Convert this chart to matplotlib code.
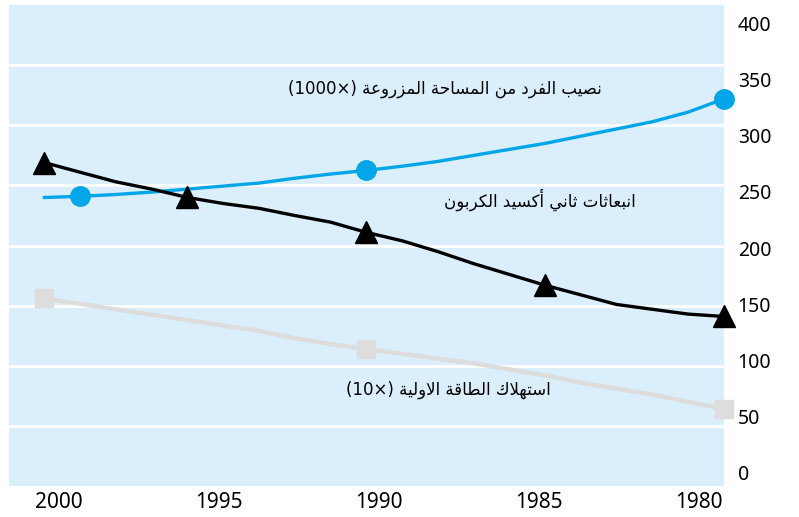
import matplotlib
matplotlib.use("Agg")
import matplotlib.pyplot as plt

# ---- data ----
years = [1999, 1998, 1997, 1996, 1995, 1994, 1993, 1992, 1991, 1990,
         1989, 1988, 1987, 1986, 1985, 1984, 1983, 1982, 1981, 1980]
land_per_capita = [240, 241, 242.5, 244.5, 247, 249.5, 252, 256, 259.5, 262.5,
                   266, 270, 275, 280, 285, 291, 297, 303, 311, 322]
co2 = [269, 261, 253, 247, 240, 235, 231, 225, 219.5, 211,
       204, 195, 185, 176, 167, 159, 151, 147, 143, 141]
energy = [156, 151.5, 147, 142.5, 138, 133.5, 129, 123, 118, 114,
          110, 106, 102, 97, 92, 86, 81, 76, 70, 64]

land_marker_years = [1998, 1990, 1980]
co2_marker_years = [1999, 1995, 1990, 1985, 1980]
energy_marker_years = [1999, 1990, 1980]

x_ticks = [2000, 1995, 1990, 1985, 1980]
y_ticks = [0, 50, 100, 150, 200, 250, 300, 350, 400]

label_land = "نصيب الفرد من المساحة المزروعة"
label_co2 = "انبعاثات ثاني أكسيد الكربون"
label_energy = "استهلاك الطاقة الاولية"

# ---- minimal arabic shaping (matplotlib has no complex text layout) ----
FORMS = {
    'ا': ('\uFE8D', '\uFE8E', None, None),
    'أ': ('\uFE83', '\uFE84', None, None),
    'ب': ('\uFE8F', '\uFE90', '\uFE91', '\uFE92'),
    'ة': ('\uFE93', '\uFE94', None, None),
    'ت': ('\uFE95', '\uFE96', '\uFE97', '\uFE98'),
    'ث': ('\uFE99', '\uFE9A', '\uFE9B', '\uFE9C'),
    'ح': ('\uFEA1', '\uFEA2', '\uFEA3', '\uFEA4'),
    'د': ('\uFEA9', '\uFEAA', None, None),
    'ر': ('\uFEAD', '\uFEAE', None, None),
    'ز': ('\uFEAF', '\uFEB0', None, None),
    'س': ('\uFEB1', '\uFEB2', '\uFEB3', '\uFEB4'),
    'ص': ('\uFEB9', '\uFEBA', '\uFEBB', '\uFEBC'),
    'ط': ('\uFEC1', '\uFEC2', '\uFEC3', '\uFEC4'),
    'ع': ('\uFEC9', '\uFECA', '\uFECB', '\uFECC'),
    'ف': ('\uFED1', '\uFED2', '\uFED3', '\uFED4'),
    'ق': ('\uFED5', '\uFED6', '\uFED7', '\uFED8'),
    'ك': ('\uFED9', '\uFEDA', '\uFEDB', '\uFEDC'),
    'ل': ('\uFEDD', '\uFEDE', '\uFEDF', '\uFEE0'),
    'م': ('\uFEE1', '\uFEE2', '\uFEE3', '\uFEE4'),
    'ن': ('\uFEE5', '\uFEE6', '\uFEE7', '\uFEE8'),
    'ه': ('\uFEE9', '\uFEEA', '\uFEEB', '\uFEEC'),
    'و': ('\uFEED', '\uFEEE', None, None),
    'ي': ('\uFEF1', '\uFEF2', '\uFEF3', '\uFEF4'),
    'لا': ('\uFEFB', '\uFEFC', None, None),
    'لأ': ('\uFEF7', '\uFEF8', None, None),
}


def shape(text):
    # merge lam-alef first
    units = []
    i = 0
    while i < len(text):
        if text[i] == 'ل' and i + 1 < len(text) and text[i + 1] in 'اأ':
            units.append(text[i:i + 2])
            i += 2
        else:
            units.append(text[i])
            i += 1
    out = []
    for k, u in enumerate(units):
        if u not in FORMS:
            out.append(u)
            continue
        prev = units[k - 1] if k > 0 else None
        nxt = units[k + 1] if k + 1 < len(units) else None
        join_prev = prev in FORMS and FORMS[prev][2] is not None
        join_next = FORMS[u][2] is not None and nxt in FORMS
        iso, fin, ini, med = FORMS[u]
        if join_prev and join_next:
            out.append(med)
        elif join_prev:
            out.append(fin)
        elif join_next:
            out.append(ini)
        else:
            out.append(iso)
    return ''.join(out)[::-1]


# ---- plot ----
bg = '#dbeefb'
blue = '#00a6e8'
grey = '#dddddd'

fig = plt.figure(figsize=(7.99, 5.17), dpi=100)
pos = [0.0109, 0.060, 0.895, 0.930]
ax = fig.add_axes(pos)
ax.set_facecolor(bg)
for s in ax.spines.values():
    s.set_visible(False)
ax.set_xlim(2000, 1980)
ax.set_ylim(0, 400)
ax.set_xticks([])
ax.set_yticks([])
for v in y_ticks[1:-1]:
    ax.axhline(v, color='white', lw=2.0, zorder=1)

ax.plot(years, energy, color=grey, lw=3.2, zorder=2, solid_capstyle='butt')
ax.plot(years, land_per_capita, color=blue, lw=2.4, zorder=3)
ax.plot(years, co2, color='black', lw=2.4, zorder=4)

ax.plot(energy_marker_years, [energy[years.index(y)] for y in energy_marker_years],
        ls='none', marker='s', ms=13.5, color=grey, zorder=5, clip_on=False)
ax.plot(land_marker_years, [land_per_capita[years.index(y)] for y in land_marker_years],
        ls='none', marker='o', ms=14, color=blue, zorder=5, clip_on=False)
ax.plot(co2_marker_years, [co2[years.index(y)] for y in co2_marker_years],
        ls='none', marker='^', ms=15.5, color='black', zorder=6, clip_on=False)

ar_font = ['DejaVu Sans']
ax.text(1983.4, 330, '(1000×) ' + shape(label_land), ha='right', va='center',
        fontsize=12, family=ar_font, zorder=7)
ax.text(1982.45, 238.5, shape(label_co2), ha='right', va='center',
        fontsize=12, family=ar_font, zorder=7)
ax.text(1984.85, 80, '(10×) ' + shape(label_energy), ha='right', va='center',
        fontsize=12, family=ar_font, zorder=7)

# tick labels sit on a slightly tighter grid than the data in the original
lab = fig.add_axes(pos, frameon=False)
lab.set_xlim(2001.57, 1979.22)
lab.set_ylim(-11.6, 416)
lab.set_xticks(x_ticks)
lab.set_yticks(y_ticks)
lab.yaxis.tick_right()
lab.tick_params(length=0)
lab.tick_params(axis='y', pad=10, labelsize=14)
lab.tick_params(axis='x', pad=4, labelsize=15)
for t in lab.get_yticklabels():
    t.set_family(['Noto Sans', 'DejaVu Sans'])
for t in lab.get_xticklabels():
    t.set_family(['Liberation Sans Narrow', 'Noto Sans', 'DejaVu Sans'])
lab.patch.set_visible(False)

fig.savefig('out.png', dpi=100)
